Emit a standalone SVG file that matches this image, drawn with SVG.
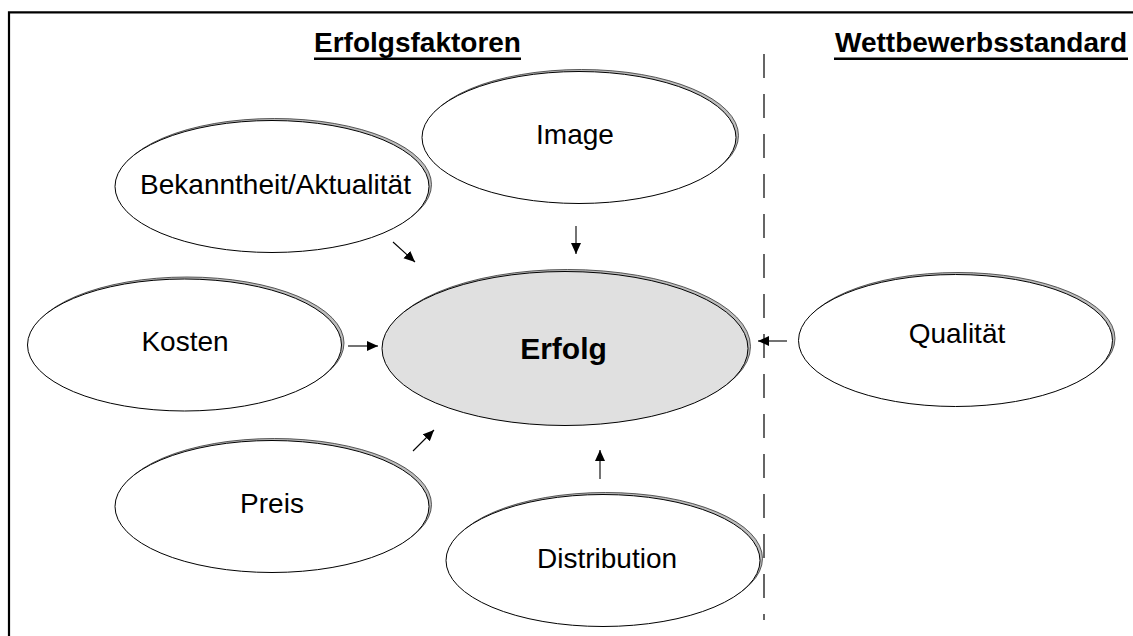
<svg xmlns="http://www.w3.org/2000/svg" width="1133" height="636" viewBox="0 0 1133 636">
  <style>
    .frame { stroke: #000; stroke-width: 2.2; fill: none; }
    .title { font-family: "Liberation Sans", Arial, sans-serif; font-size: 28px; font-weight: bold; fill: #000; text-anchor: middle; }
    .uline { stroke: #000; stroke-width: 2.6; }
    .shadow { fill: #bdbdbd; stroke: #333; stroke-width: 0.8; }
    .node { fill: #fff; stroke: #000; stroke-width: 1; }
    .core { fill: #e0e0e0; stroke: #000; stroke-width: 1; }
    .label { font-family: "Liberation Sans", Arial, sans-serif; font-size: 28px; fill: #000; text-anchor: middle; }
    .strong { font-weight: bold; font-size: 30px; }
    .arrow { stroke: #000; stroke-width: 1.1; fill: none; marker-end: url(#head); }
    .divider { stroke: #000; stroke-width: 1.2; stroke-dasharray: 24 16; }
  </style>
  <defs>
    <marker id="head" markerUnits="userSpaceOnUse" markerWidth="12" markerHeight="12" refX="11" refY="5" orient="auto">
      <path d="M0,0 L11,5 L0,10 Z" fill="#000"/>
    </marker>
  </defs>

  <rect width="1133" height="636" fill="#fff"/>

  <!-- frame: top rule and left rule -->
  <path class="frame" d="M1133,12.3 H9 V636"/>

  <!-- section headings -->
  <text class="title" x="417.5" y="52">Erfolgsfaktoren</text>
  <line class="uline" x1="314" y1="58.7" x2="521" y2="58.7"/>
  <text class="title" x="981" y="52">Wettbewerbsstandard</text>
  <line class="uline" x1="834" y1="58.7" x2="1128" y2="58.7"/>

  <!-- dashed divider -->
  <line class="divider" x1="764" y1="54" x2="764" y2="620"/>

  <g id="image">
    <ellipse class="shadow" cx="581.5" cy="135.5" rx="157" ry="66"/>
    <ellipse class="node" cx="579" cy="137.5" rx="157" ry="66"/>
    <text class="label" x="575" y="144">Image</text>
  </g>

  <g id="bekanntheit">
    <ellipse class="shadow" cx="274.5" cy="184.5" rx="157" ry="66"/>
    <ellipse class="node" cx="272" cy="186.5" rx="157" ry="66"/>
    <text class="label" x="275.5" y="194">Bekanntheit/Aktualität</text>
  </g>

  <g id="kosten">
    <ellipse class="shadow" cx="187" cy="343" rx="157" ry="66"/>
    <ellipse class="node" cx="184.5" cy="345" rx="157" ry="66"/>
    <text class="label" x="185" y="351">Kosten</text>
  </g>

  <g id="erfolg">
    <ellipse class="shadow" cx="567.5" cy="346.5" rx="183" ry="77"/>
    <ellipse class="core" cx="565" cy="348.5" rx="183" ry="77"/>
    <text class="label strong" x="563.5" y="359">Erfolg</text>
  </g>

  <g id="qualitaet">
    <ellipse class="shadow" cx="958" cy="338.5" rx="157" ry="66"/>
    <ellipse class="node" cx="955.5" cy="340.5" rx="157" ry="66"/>
    <text class="label" x="957" y="343">Qualität</text>
  </g>

  <g id="preis">
    <ellipse class="shadow" cx="274.5" cy="504.5" rx="157" ry="66"/>
    <ellipse class="node" cx="272" cy="506.5" rx="157" ry="66"/>
    <text class="label" x="272" y="513">Preis</text>
  </g>

  <g id="distribution">
    <ellipse class="shadow" cx="605.5" cy="558.5" rx="157" ry="66"/>
    <ellipse class="node" cx="603" cy="560.5" rx="157" ry="66"/>
    <text class="label" x="607" y="568">Distribution</text>
  </g>

  <g id="connectors">
    <line class="arrow" x1="576" y1="226" x2="576" y2="254"/>
    <line class="arrow" x1="393" y1="242" x2="415" y2="262"/>
    <line class="arrow" x1="348" y1="346" x2="378" y2="346"/>
    <line class="arrow" x1="413" y1="451" x2="434" y2="430"/>
    <line class="arrow" x1="600" y1="479" x2="600" y2="450"/>
    <line class="arrow" x1="787" y1="341" x2="758" y2="341"/>
  </g>
</svg>
